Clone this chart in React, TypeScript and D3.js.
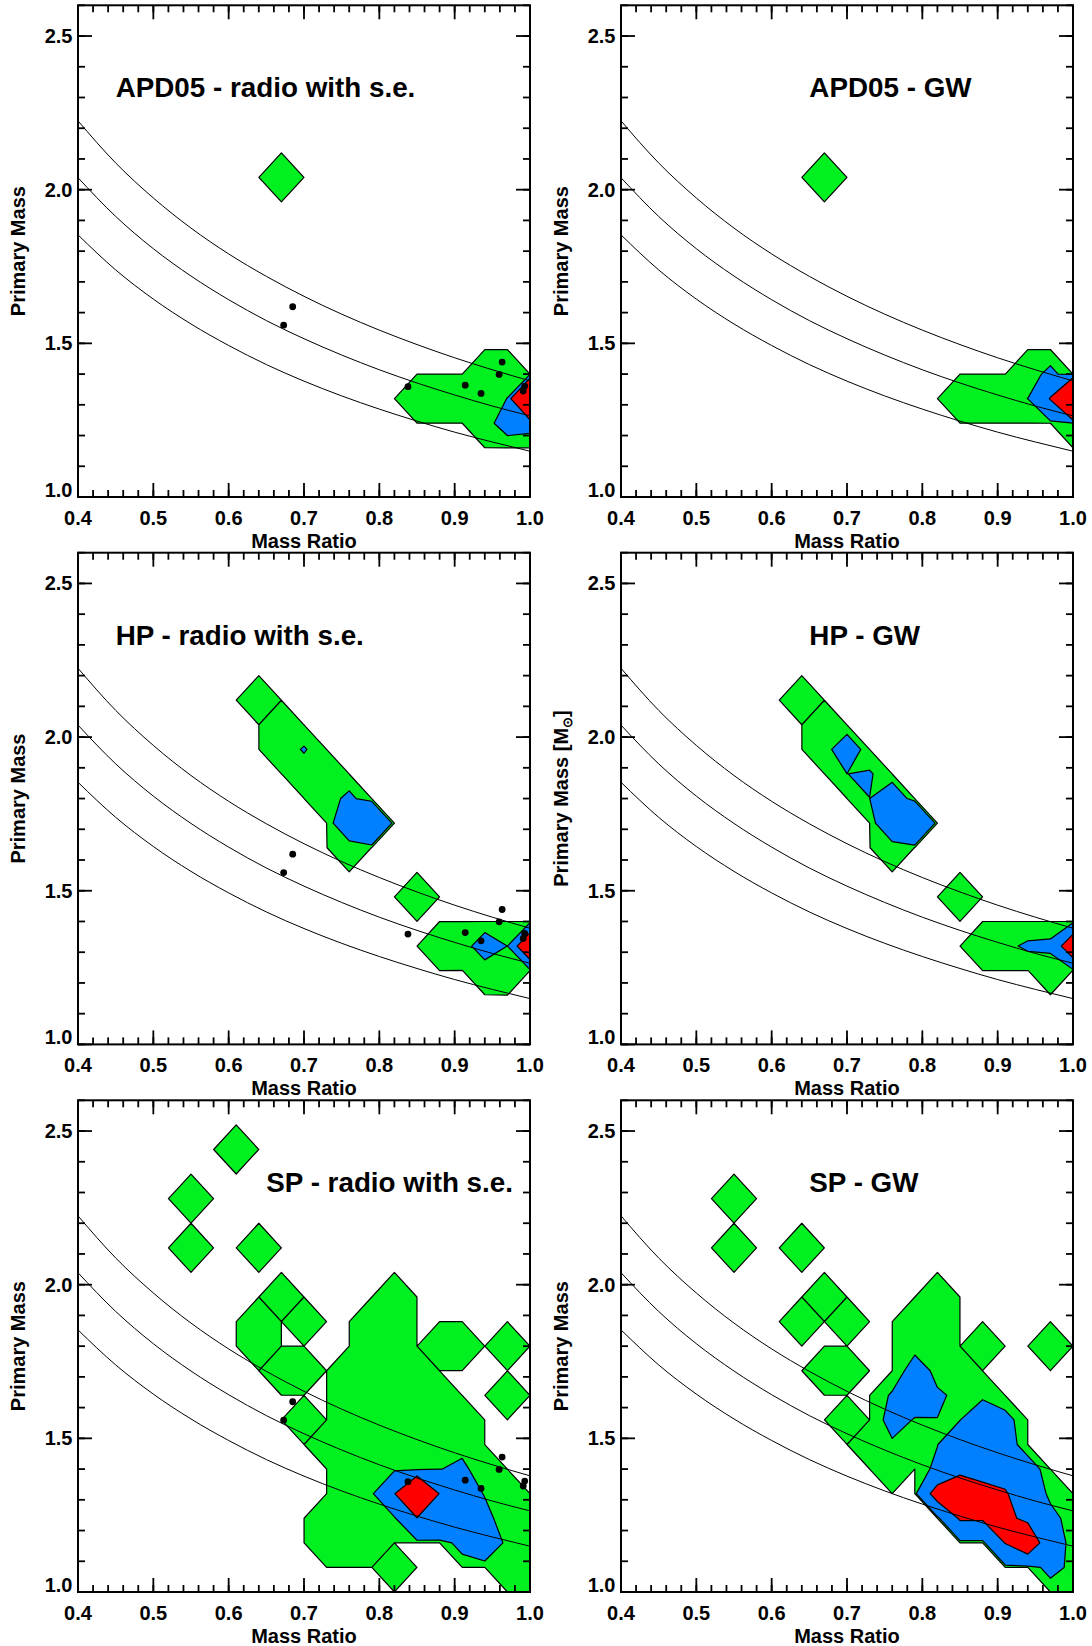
import React from 'react';
import * as d3 from 'd3';

// histogram grid (nodes every 0.03 in q, 0.08 in M)
const Q_MIN = 0.4;
const Q_MAX = 1.0;
const Q_STEP = 0.03;
const M_MIN = 1.0;
const M_MAX = 2.6;
const M_STEP = 0.08;
const NODES = 21;

// contour levels: outer (green), middle (blue), inner (red)
const LEVELS = [0.001, 1, 10];
const LEVEL_COLORS = ['#00f020', '#0080ff', '#ff0000'];

// rows of histogram values: [primary mass, first mass ratio, values...]
type Row = [number, number, number[]];

const APD05_RADIO: Row[] = [
  [2.04, 0.67, [0.5]],
  [1.40, 0.94, [0.5, 0.5]],
  [1.32, 0.85, [0.5, 0.5, 0.5, 0.5, 1.02, 60]],
  [1.24, 0.94, [0.3, 2.0, 1.7]],
];

const APD05_GW: Row[] = [
  [2.04, 0.67, [0.5]],
  [1.40, 0.94, [0.2, 1.52]],
  [1.32, 0.85, [0.5, 0.5, 0.5, 1.01, 10.5, 70]],
  [1.24, 1.00, [0.9]],
];

const HP_RADIO: Row[] = [
  [2.12, 0.64, [0.5]],
  [2.04, 0.67, [0.5]],
  [1.96, 0.67, [0.2, 1.15]],
  [1.88, 0.70, [0.2, 0.5]],
  [1.80, 0.73, [0.27, 1.45]],
  [1.72, 0.76, [3.45, 9]],
  [1.64, 0.76, [0.05]],
  [1.48, 0.85, [0.5]],
  [1.32, 0.88, [0.5, 0.12, 2.22, 0.99, 22]],
  [1.24, 0.94, [0.05, 0.5]],
];

const HP_GW: Row[] = [
  [2.12, 0.64, [0.5]],
  [2.04, 0.67, [0.5]],
  [1.96, 0.67, [0.27, 2.55]],
  [1.88, 0.70, [0.99, 1.18]],
  [1.80, 0.73, [0.99, 2.94]],
  [1.72, 0.76, [3.85, 9.5]],
  [1.64, 0.76, [0.05]],
  [1.48, 0.85, [0.5]],
  [1.32, 0.88, [0.5, 0.64, 1.27, 1.41, 19.3]],
  [1.24, 0.97, [0.05]],
];

const SP_RADIO: Row[] = [
  [2.44, 0.61, [0.5]],
  [2.28, 0.55, [0.5]],
  [2.12, 0.55, [0.5, 0, 0, 0.5]],
  [1.96, 0.67, [0.5, 0, 0, 0, 0, 0.5]],
  [1.88, 0.64, [0.5, 0, 0.5, 0, 0, 0.5, 0.5]],
  [1.80, 0.64, [0.5, 0, 0, 0, 0, 0.5, 0.5, 0, 0.5, 0.5, 0, 0.5]],
  [1.72, 0.67, [0.5, 0.5, 0, 0.5, 0.5, 0.5, 0.5]],
  [1.64, 0.76, [0.5, 0.5, 0.5, 0.5, 0.5, 0, 0, 0.5]],
  [1.56, 0.70, [0.5, 0, 0.5, 0.5, 0.5, 0.5, 0.5, 0.5]],
  [1.48, 0.73, [0.5, 0.5, 0.5, 0.5, 0.5, 0.5, 0.73]],
  [1.40, 0.76, [0.5, 0.5, 0.3, 0.3, 0.97, 1.21, 0.5]],
  [1.32, 0.76, [0.5, 0.36, 9.5, 35, 9.5, 1.61, 0.94, 0.5]],
  [1.24, 0.73, [0.5, 0.5, 0.5, 0.5, 9.5, 9, 3, 1.32, 0.5, 0.5]],
  [1.16, 0.73, [0.5, 0.5, 0.5, 0, 0, 0, 1.85, 3.85, 0.29, 0.5]],
  [1.08, 0.82, [0.5, 0, 0, 0, 0, 0.5, 0.5]],
  [1.00, 1.00, [0.5]],
];

const SP_GW: Row[] = [
  [2.28, 0.55, [0.5]],
  [2.12, 0.55, [0.5, 0, 0, 0.5]],
  [1.96, 0.67, [0.5, 0, 0, 0, 0, 0.5]],
  [1.88, 0.64, [0.5, 0, 0.5, 0, 0, 0.5, 0.5]],
  [1.80, 0.79, [0.52, 0.5, 0, 0.5, 0, 0, 0.5]],
  [1.72, 0.67, [0.5, 0.5, 0, 0, 1.85, 0.6, 0.5]],
  [1.64, 0.76, [1.2, 1.9, 1.19, 0.73, 0.5]],
  [1.56, 0.70, [0.5, 0, 1.67, 0.9, 0.98, 0.95, 3.3, 1.64]],
  [1.48, 0.73, [0.5, 0.78, 0.5, 0.95, 3, 3, 2.13]],
  [1.40, 0.76, [0.5, 0, 1.5, 6.7, 4.4, 5.4, 2.17]],
  [1.32, 0.82, [14.7, 20, 15, 11, 3.13, 0.5]],
  [1.24, 0.85, [11.1, 11, 12, 8.1, 1.75, 0.1]],
  [1.16, 0.91, [10.3, 18.5, 2.56, 0.3]],
  [1.08, 0.97, [1.78, 0.5]],
  [1.00, 1.00, [0.5]],
];

// observed binaries (mass ratio, primary mass)
const DOT_Q = [0.685, 0.673, 0.838, 0.914, 0.935, 0.959, 0.963, 0.991, 0.993];
const DOT_M = [1.619, 1.559, 1.359, 1.364, 1.337, 1.399, 1.439, 1.345, 1.361];

// the three reference curves, read along q
const CURVE_Q = [0.40, 0.45, 0.50, 0.55, 0.60, 0.65, 0.70, 0.75, 0.80, 0.85, 0.90, 0.95, 1.00];
const CURVE_LOW = [1.853, 1.739, 1.644, 1.563, 1.493, 1.431, 1.377, 1.329, 1.286, 1.247, 1.211, 1.179, 1.149];
const CURVE_MID = [2.039, 1.913, 1.808, 1.719, 1.642, 1.574, 1.515, 1.462, 1.414, 1.371, 1.332, 1.296, 1.264];
const CURVE_HIGH = [2.224, 2.087, 1.973, 1.875, 1.791, 1.718, 1.653, 1.595, 1.543, 1.496, 1.453, 1.414, 1.378];
const CURVES = [CURVE_LOW, CURVE_MID, CURVE_HIGH];

const TITLE_M = 2.3;

const PANELS = [
  { title: 'APD05 - radio with s.e.', grid: APD05_RADIO, dots: true, col: 0, row: 0, titleQ: 0.45, sun: false },
  { title: 'APD05 - GW', grid: APD05_GW, dots: false, col: 1, row: 0, titleQ: 0.65, sun: false },
  { title: 'HP - radio with s.e.', grid: HP_RADIO, dots: true, col: 0, row: 1, titleQ: 0.45, sun: false },
  { title: 'HP - GW', grid: HP_GW, dots: false, col: 1, row: 1, titleQ: 0.65, sun: true },
  { title: 'SP - radio with s.e.', grid: SP_RADIO, dots: true, col: 0, row: 2, titleQ: 0.65, sun: false },
  { title: 'SP - GW', grid: SP_GW, dots: false, col: 1, row: 2, titleQ: 0.65, sun: false },
];

// layout
const WIDTH = 1092;
const HEIGHT = 1646;
const COL_X = [78, 621];
const ROW_Y = [5.3, 552.7, 1100.3];
const PLOT_W = 452;
const PLOT_H = 491.7;
const FONT = '"Liberation Sans", Arial, Helvetica, sans-serif';
const fmt = d3.format('.1f');

function toGrid(rows: Row[]) {
  const values = new Array(NODES * NODES).fill(0);
  rows.forEach(([m, q0, vals]) => {
    const j = Math.round((m - M_MIN) / M_STEP);
    const i0 = Math.round((q0 - Q_MIN) / Q_STEP);
    vals.forEach((v, k) => {
      values[j * NODES + i0 + k] = v;
    });
  });
  return values;
}

function Panel({ cfg, idx }: { cfg: any; idx: number }) {
  const left = COL_X[cfg.col];
  const top = ROW_Y[cfg.row];
  const right = left + PLOT_W;
  const bottom = top + PLOT_H;

  const x = d3.scaleLinear().domain([Q_MIN, Q_MAX]).range([left, right]);
  const y = d3.scaleLinear().domain([M_MIN, M_MAX]).range([bottom, top]);

  const bands = d3.contours().size([NODES, NODES]).thresholds(LEVELS)(toGrid(cfg.grid));
  const project = d3.geoTransform({
    point: function (px: number, py: number) {
      this.stream.point(x(Q_MIN + (px - 0.5) * Q_STEP), y(M_MIN + (py - 0.5) * M_STEP));
    },
  });
  const contourPath = d3.geoPath(project);

  const curve = d3
    .line<number>()
    .x((d, i) => x(CURVE_Q[i]))
    .y((d) => y(d))
    .curve(d3.curveMonotoneX);

  const xMinor = x.ticks(30);
  const xMajor = x.ticks(6);
  const yMinor = y.ticks(16);
  const yMajor = y.ticks(3);
  const clipId = `plot-clip-${idx}`;

  return (
    <g fontFamily={FONT} fontWeight="bold" fill="#000">
      <defs>
        <clipPath id={clipId}>
          <rect x={left} y={top} width={PLOT_W} height={PLOT_H} />
        </clipPath>
      </defs>

      <g clipPath={`url(#${clipId})`}>
        {bands.map((b, k) => (
          <path
            key={k}
            d={contourPath(b as any) || ''}
            fill={LEVEL_COLORS[k]}
            fillRule="evenodd"
            stroke="#000"
            strokeWidth={1.2}
            strokeLinejoin="round"
          />
        ))}
        {CURVES.map((c, k) => (
          <path key={k} d={curve(c) || ''} fill="none" stroke="#000" strokeWidth={1} />
        ))}
        {cfg.dots &&
          DOT_Q.map((q, k) => <circle key={k} cx={x(q)} cy={y(DOT_M[k])} r={3.4} fill="#000" />)}
      </g>

      {/* ticks */}
      <g stroke="#000" strokeWidth={1.8}>
        {xMinor.map((t, k) => (
          <g key={'xm' + k}>
            <line x1={x(t)} x2={x(t)} y1={bottom} y2={bottom - 7} />
            <line x1={x(t)} x2={x(t)} y1={top} y2={top + 7} />
          </g>
        ))}
        {xMajor.map((t, k) => (
          <g key={'xM' + k}>
            <line x1={x(t)} x2={x(t)} y1={bottom} y2={bottom - 14} />
            <line x1={x(t)} x2={x(t)} y1={top} y2={top + 14} />
          </g>
        ))}
        {yMinor.map((t, k) => (
          <g key={'ym' + k}>
            <line x1={left} x2={left + 7} y1={y(t)} y2={y(t)} />
            <line x1={right} x2={right - 7} y1={y(t)} y2={y(t)} />
          </g>
        ))}
        {yMajor.map((t, k) => (
          <g key={'yM' + k}>
            <line x1={left} x2={left + 14} y1={y(t)} y2={y(t)} />
            <line x1={right} x2={right - 14} y1={y(t)} y2={y(t)} />
          </g>
        ))}
      </g>
      <rect x={left} y={top} width={PLOT_W} height={PLOT_H} fill="none" stroke="#000" strokeWidth={2} />

      {/* tick labels */}
      {xMajor.map((t, k) => (
        <text key={'xl' + k} x={x(t)} y={bottom + 27.5} fontSize={20} textAnchor="middle">
          {fmt(t)}
        </text>
      ))}
      {yMajor.map((t, k) => (
        <text
          key={'yl' + k}
          x={left - 5.5}
          y={t === M_MIN ? y(t) : y(t) + 7}
          fontSize={20}
          textAnchor="end"
        >
          {fmt(t)}
        </text>
      ))}

      {/* axis titles */}
      <text x={(left + right) / 2} y={bottom + 50.5} fontSize={20} textAnchor="middle">
        Mass Ratio
      </text>
      <text
        transform={`translate(${left - 53.5},${(top + bottom) / 2}) rotate(-90)`}
        fontSize={20}
        textAnchor="middle"
      >
        {cfg.sun ? (
          <>
            Primary Mass [M
            <tspan fontSize={13} baselineShift="-4">
              ⊙
            </tspan>
            ]
          </>
        ) : (
          'Primary Mass'
        )}
      </text>

      {/* panel title */}
      <text x={x(cfg.titleQ)} y={y(TITLE_M)} fontSize={27.8}>
        {cfg.title}
      </text>
    </g>
  );
}

export default function App() {
  return (
    <div style={{ position: 'absolute', left: 0, top: 0 }}>
      <svg width={WIDTH} height={HEIGHT} viewBox={`0 0 ${WIDTH} ${HEIGHT}`} style={{ display: 'block' }}>
        <rect width={WIDTH} height={HEIGHT} fill="#fff" />
        {PANELS.map((p, k) => (
          <Panel key={k} cfg={p} idx={k} />
        ))}
      </svg>
    </div>
  );
}
